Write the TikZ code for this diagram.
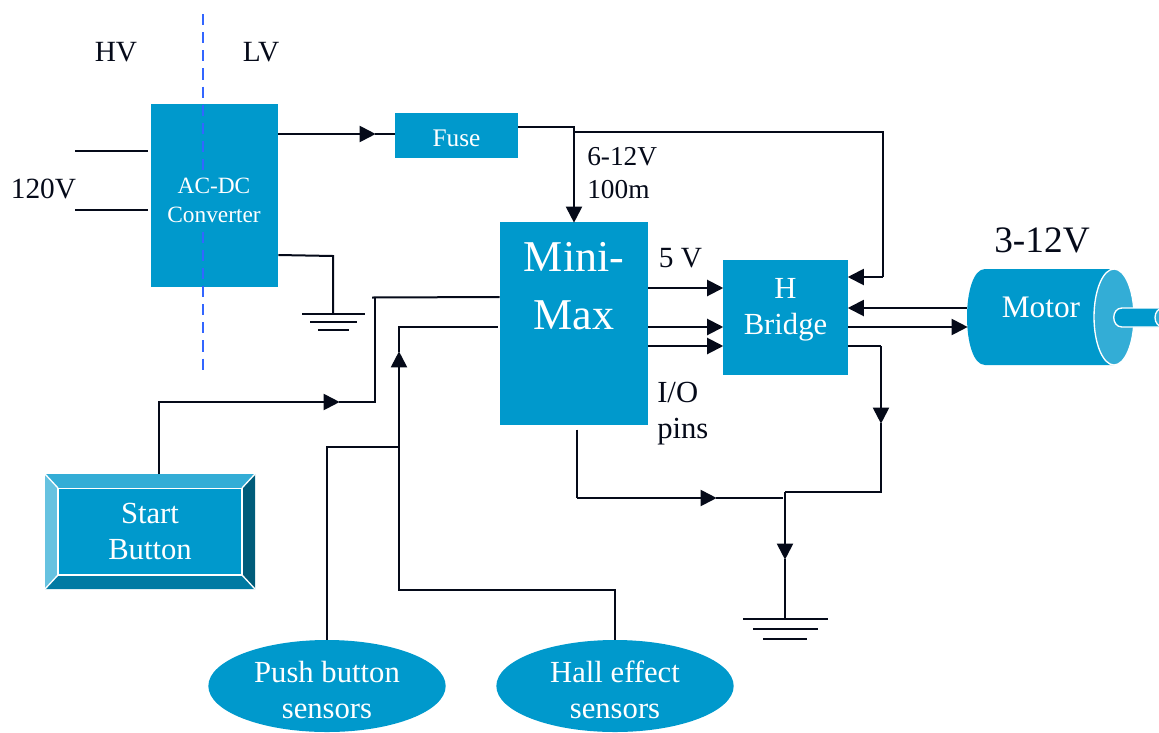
\documentclass[tikz,border=0pt]{standalone}
\usepackage{amsmath}
\usepackage{fontspec}
\setmainfont{Liberation Serif}
\usepackage{tikz}
\usetikzlibrary{arrows.meta,shapes.geometric}
\definecolor{blockblue}{RGB}{0,153,204}
\definecolor{wirecol}{RGB}{5,10,25}
\definecolor{dashblue}{RGB}{51,102,255}
\begin{document}
\begin{tikzpicture}[x=0.75pt,y=0.75pt,yscale=-1,xscale=1,
    wire/.style={draw=wirecol,line width=1.5pt},
    arr/.style={wire,-{Triangle[length=12pt,width=12pt]},shorten >=-0.5pt},
    block/.style={fill=blockblue,inner sep=0pt},
    blocktext/.style={text=white,inner sep=0pt,align=center,font=\fontsize{23}{27}\selectfont},
    lab/.style={text=wirecol,inner sep=0.75pt,align=left,font=\fontsize{22}{27}\selectfont},
    ]
    \useasboundingbox (0,0) rectangle (1159,732);

    %Blocks
    \node [block,minimum width=95.25pt,minimum height=137.25pt] (conv) at (214.5,195.5) {};
    \node [block,minimum width=92pt,minimum height=33.5pt] (fuse) at (456.5,135.5) {};
    \node [block,minimum width=111pt,minimum height=152.25pt,anchor=north] (mini) at (574,222) {};
    \node [block,minimum width=94pt,minimum height=86.25pt] (hbr) at (785.5,317.5) {};

    %Start button
    \fill [fill=blockblue!80!white] (45,474) -- (255,474) -- (242,488) -- (58,488) -- cycle;
    \fill [fill=blockblue!60!white] (45,474) -- (58,488) -- (58,575) -- (45,589) -- cycle;
    \fill [fill=blockblue!60!black] (255,474) -- (242,488) -- (242,575) -- (255,589) -- cycle;
    \fill [fill=blockblue!80!black] (45,589) -- (58,575) -- (242,575) -- (255,589) -- cycle;
    \draw [white,line width=1pt] (45,474) -- (58,488) (255,474) -- (242,488) (45,589) -- (58,575) (255,589) -- (242,575);
    \node [block,draw=white,line width=1pt,minimum width=138pt,minimum height=65pt] (start) at (150,531.5) {};
    \coordinate (startout) at (159,474);

    %Sensors
    \node [block,shape=ellipse,minimum width=178pt,minimum height=69pt] (push) at (327,686) {};
    \node [block,shape=ellipse,minimum width=178pt,minimum height=69pt] (hall) at (615,686) {};

    %Motor
    \fill [fill=blockblue] (985,269) -- (1114,269) -- (1114,365) -- (985,365) .. controls (961,365) and (961,269) .. (985,269) -- cycle;
    \draw [white,line width=1pt,fill=blockblue!80!white] (1114,317) ellipse [x radius=20, y radius=48];
    \draw [white,line width=1pt,fill=blockblue] (1159,308) -- (1122,308) .. controls (1111,308) and (1111,327) .. (1122,327) -- (1159,327);
    \draw [white,line width=1pt,fill=blockblue!80!white] (1163,317.5) ellipse [x radius=8, y radius=9.5];
    \coordinate (motorin) at (967,327);
    \coordinate (motorout) at (967,308);

    %HV/LV divider
    \draw [draw=dashblue,line width=1.5pt,dash pattern=on 8.4pt off 5.2pt] (203,14) -- (203,376);

    %Block texts, the converter one hides the divider
    \node [blocktext,fill=blockblue,font=\fontsize{17.5}{22}\selectfont,inner ysep=3pt] (convlab) at (214,200.5) {AC-DC\\Converter};
    \node [blocktext,font=\fontsize{19}{22}\selectfont] (fuselab) at (456.5,138) {Fuse};
    \node [blocktext,font=\fontsize{33}{43}\selectfont] (minilab) at (574,286) {Mini-\\Max};
    \node [blocktext] (hbrlab) at (785.5,309.5) {H\\Bridge};
    \node [blocktext] (startlab) at (150,531.5) {Start\\Button};
    \node [blocktext] (pushlab) at (327,690) {Push button\\sensors};
    \node [blocktext] (halllab) at (615,690) {Hall effect\\sensors};
    \node [blocktext,font=\fontsize{23.5}{27}\selectfont] (motor) at (1041,307) {Motor};

    %Mains lines
    \coordinate (mainsa) at (75,151);
    \coordinate (mainsb) at (75,210);
    \draw [wire,shorten >=2pt] (mainsa) -- (conv.west |- mainsa);
    \draw [wire,shorten >=2pt] (mainsb) -- (conv.west |- mainsb);

    %Converter to fuse
    \coordinate (convtip) at (375,134);
    \draw [arr] (conv.east |- convtip) -- (convtip);
    \draw [wire] (convtip) -- (fuse.west |- convtip);

    %Fuse to controller and bridge
    \coordinate (fusetap) at (574,127);
    \coordinate (rail) at (574,132);
    \coordinate (railend) at (883,132);
    \coordinate (bridgein) at (883,277);
    \draw [wire] (fuse.east |- fusetap) -- (fusetap) -- (rail) -- (railend) -- (bridgein);
    \draw [arr] (bridgein) -- (hbr.east |- bridgein);
    \draw [arr] (rail) -- (mini.north -| rail);

    %Converter ground
    \coordinate (gnda) at (333,256);
    \coordinate (gndb) at (333,314);
    \draw [wire] (conv.east |- 0,255) -- (gnda) -- (gndb);
    \draw [wire] (302,314) -- (364.5,314);
    \draw [wire] (310,322) -- (357,322);
    \draw [wire] (318,330) -- (349,330);

    %Start button to controller
    \coordinate (startcor) at (159,402);
    \coordinate (starttip) at (339,402);
    \coordinate (startup) at (375,402);
    \coordinate (starttop) at (375,297);
    \draw [arr] (startout) -- (startcor) -- (starttip);
    \draw [wire] (starttip) -- (startup) -- (starttop);
    \draw [wire] (372,297.5) -- (mini.west |- starttop);

    %Sensors to controller
    \coordinate (sensjoin) at (399,447);
    \coordinate (senstip) at (399,352);
    \coordinate (senstop) at (399,327);
    \coordinate (halla) at (615,590);
    \coordinate (hallb) at (399,590);
    \coordinate (pusha) at (327,447);
    \draw [wire] (hall.north) -- (halla) -- (hallb) -- (sensjoin);
    \draw [wire] (push.north) -- (pusha) -- (sensjoin);
    \draw [arr] (sensjoin) -- (senstip);
    \draw [wire,shorten >=1.5pt] (senstip) -- (senstop) -- (mini.west |- senstop);

    %Controller to bridge
    \draw [arr] (mini.east |- 0,288) -- (hbr.west |- 0,288);
    \draw [arr] (mini.east |- 0,327) -- (hbr.west |- 0,327);
    \draw [arr] (mini.east |- 0,346) -- (hbr.west |- 0,346);

    %Bridge and motor
    \draw [arr] (motorout) -- (hbr.east |- motorout);
    \draw [arr] (hbr.east |- motorin) -- (motorin);

    %Returns to ground
    \coordinate (retcor) at (881,346);
    \coordinate (rettip) at (881,423);
    \coordinate (retlow) at (881,492);
    \coordinate (retjoin) at (785,492);
    \coordinate (gndtip) at (785,559);
    \coordinate (gndtop) at (785,619);
    \coordinate (ctrlcor) at (577,498);
    \coordinate (ctrltip) at (716,498);
    \coordinate (ctrlend) at (783,498);
    \draw [wire] (hbr.east |- retcor) -- (retcor);
    \draw [arr] (retcor) -- (rettip);
    \draw [wire] (rettip) -- (retlow) -- (retjoin);
    \draw [arr] (retjoin) -- (gndtip);
    \draw [wire] (gndtip) -- (gndtop);
    \draw [wire,shorten <=3pt] (mini.south -| ctrlcor) -- (ctrlcor);
    \draw [arr] (ctrlcor) -- (ctrltip);
    \draw [wire] (ctrltip) -- (ctrlend);
    \draw [wire] (743,619) -- (828,619);
    \draw [wire] (753,629) -- (818,629);
    \draw [wire] (763,639) -- (807,639);

    %Text labels
    \node [lab,anchor=center] (hvlab) at (116,52) {HV};
    \node [lab,anchor=center] (lvlab) at (261,52) {LV};
    \node [lab,anchor=center] (mainslab) at (43.5,189) {120V};
    \node [lab,anchor=north west,font=\fontsize{20.5}{25}\selectfont] (rangelab) at (586,146) {6-12V\\100m};
    \node [lab,anchor=center] (fivelab) at (680.5,258) {5 V};
    \node [lab,anchor=north west,font=\fontsize{23}{27}\selectfont] (iolab) at (656,381) {I/O\\pins};
    \node [lab,anchor=center,font=\fontsize{28}{32}\selectfont] (motorlab) at (1042,240) {3-12V};
\end{tikzpicture}
\end{document}
